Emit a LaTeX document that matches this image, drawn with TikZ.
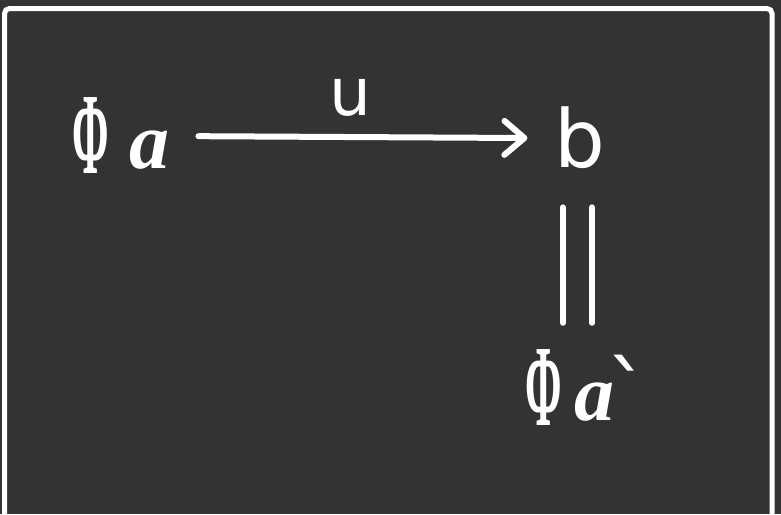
\documentclass[tikz,border=0pt]{standalone}
\usepackage{fontspec}
\setmainfont{Liberation Serif}
\newfontfamily\dvs{DejaVu Sans}
\usepackage{graphicx}
\usetikzlibrary{arrows.meta}
\definecolor{bgc}{HTML}{333333}
\newcommand{\myphi}{\raisebox{-5pt}{\scalebox{0.55}[1.45]{\bfseries Φ}}}
\newcommand{\mya}{{\bfseries\itshape a}}
\begin{document}
\begin{tikzpicture}[x=1pt,y=-1pt,
  lbl/.style={text=white, inner sep=0pt, font=\fontsize{80}{80}\selectfont},
  small/.style={text=white, inner sep=0pt, font=\fontsize{66}{66}\selectfont},
  wline/.style={white, line width=6pt, line cap=round}]
\fill[bgc] (0,0) rectangle (781,514);
\useasboundingbox (0,0) rectangle (781,514);
\draw[white, line width=5pt, rounded corners=5pt] (4.5,540) -- (4.5,8.5) -- (772,8.5) -- (772,540);
\node[lbl, anchor=base] (A) at (121,168) {\myphi\kern20pt\mya};
\node[lbl, anchor=base] (B) at (580,167) {\dvs b};
\node[lbl, anchor=base] (C) at (588,420) {\myphi\kern12pt\mya\kern-8pt\raisebox{-5pt}{\dvs\scalebox{1.1}{`}}};
\draw[wline, -{Straight Barb[length=20pt,width=34pt,round]}, shorten <=29pt, shorten >=27pt]
  ([yshift=-1pt]A.east) -- node[small, above=18pt, pos=0.47] (U) {\dvs u} ([yshift=-1pt]B.west);
\draw[wline] ([xshift=-17pt,yshift=-39pt]B.south) -- ([xshift=-25pt,yshift=26pt]C.north);
\draw[wline] ([xshift=12pt,yshift=-39pt]B.south) -- ([xshift=4pt,yshift=26pt]C.north);
\end{tikzpicture}
\end{document}
